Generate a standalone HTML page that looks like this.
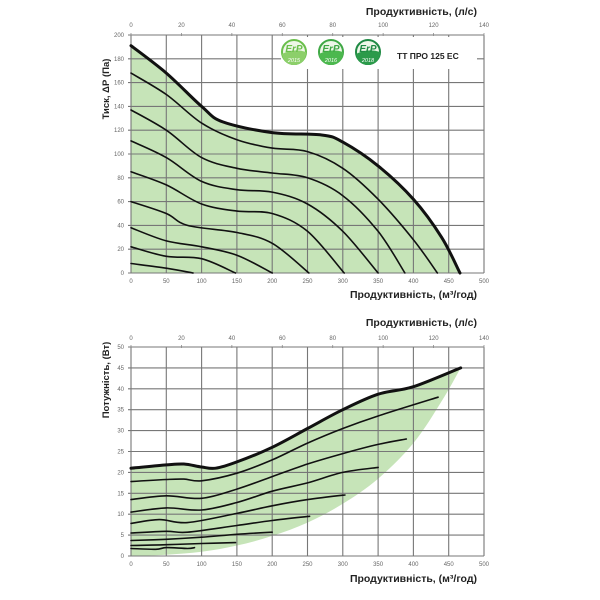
<!DOCTYPE html>
<html><head><meta charset="utf-8"><style>
html,body{margin:0;padding:0;background:#fff;}
svg{display:block;font-family:"Liberation Sans",sans-serif;}
</style></head><body>
<svg id="s" width="600" height="600" viewBox="0 0 600 600" xmlns="http://www.w3.org/2000/svg"></svg>
<script>
(function(){
var S=document.getElementById('s');var h='';
var X0=131,X1=484;
function sx(q){return X0+(X1-X0)*q/500;}
function path(pts){
 var d='M'+pts[0][0].toFixed(1)+','+pts[0][1].toFixed(1);
 for(var i=0;i<pts.length-1;i++){var p0=pts[i-1]||pts[i],p1=pts[i],p2=pts[i+1],p3=pts[i+2]||p2;
  var c1=[p1[0]+(p2[0]-p0[0])/6,p1[1]+(p2[1]-p0[1])/6],c2=[p2[0]-(p3[0]-p1[0])/6,p2[1]-(p3[1]-p1[1])/6];
  d+=' C'+c1[0].toFixed(1)+','+c1[1].toFixed(1)+' '+c2[0].toFixed(1)+','+c2[1].toFixed(1)+' '+p2[0].toFixed(1)+','+p2[1].toFixed(1);}
 return d;}
function chart(Ytop,Ybot,ymax,ystep,topY,fill,curves,ytitle,titleTop,titleBot,cy,logo){
 var sy=function(v){return Ybot-(Ybot-Ytop)*v/ymax;};
 var P=function(a){return a.map(function(p){return [sx(p[0]),sy(p[1])];});};
 h+='<path d="'+fill(P,sy)+'" fill="#c6e4b8"/>';
 for(var q=0;q<=500;q+=50){h+='<line x1="'+sx(q)+'" y1="'+Ytop+'" x2="'+sx(q)+'" y2="'+Ybot+'" stroke="#777" stroke-width="1.1"/>';
  h+='<text x="'+sx(q)+'" y="'+(Ybot+10)+'" font-size="6" fill="#666" text-anchor="middle">'+q+'</text>';}
 for(var v=0;v<=ymax;v+=ystep){h+='<line x1="'+(X0-3)+'" y1="'+sy(v)+'" x2="'+X1+'" y2="'+sy(v)+'" stroke="#777" stroke-width="1.1"/>';
  h+='<text x="'+(X0-7)+'" y="'+(sy(v)+2)+'" font-size="6" fill="#666" text-anchor="end">'+v+'</text>';}
 for(var l=0;l<=140;l+=20){var x=X0+(X1-X0)*l/140;h+='<text x="'+x+'" y="'+topY+'" font-size="6" fill="#666" text-anchor="middle">'+l+'</text><line x1="'+x+'" y1="'+(Ytop-2)+'" x2="'+x+'" y2="'+(Ytop+1)+'" stroke="#888" stroke-width="0.8"/>';}
 if(logo)logo(sy);
 curves.forEach(function(c,i){h+='<path d="'+path(P(c))+'" fill="none" stroke="#111" stroke-width="'+(i==0?3:1.6)+'" stroke-linecap="round"/>';});
 h+='<text x="477" y="'+titleTop+'" font-size="10.5" font-weight="bold" fill="#222" text-anchor="end">Продуктивність, (л/с)</text>';
 h+='<text x="477" y="'+titleBot+'" font-size="10.5" font-weight="bold" fill="#222" text-anchor="end">Продуктивність, (м³/год)</text>';
 h+='<text transform="translate(109,'+cy+') rotate(-90)" font-size="9.5" font-weight="bold" fill="#222" text-anchor="middle">'+ytitle+'</text>';
}
var TOPC=[
[[0,191],[50,168],[100,140],[130,127],[200,118],[270,116],[300,110],[350,90],[400,62],[440,30],[466,0]],
[[0,168],[50,150],[100,126],[150,112],[200,105],[250,102],[300,88],[350,62],[400,28],[434,0]],
[[0,137],[50,120],[100,97],[150,88],[200,84],[250,80],[300,65],[350,35],[388,0]],
[[0,111],[50,97],[100,77],[150,70],[200,68],[250,58],[300,35],[350,0]],
[[0,85],[50,74],[100,58],[150,52],[200,50],[250,35],[302,0]],
[[0,60],[50,50],[80,40],[150,34],[200,25],[252,0]],
[[0,38],[50,27],[100,22],[150,15],[200,0]],
[[0,22],[50,14],[100,12],[148,0]],
[[0,8],[50,4],[88,0]]];
chart(35,273,200,20,27,function(P,sy){return path(P(TOPC[0]))+' L'+sx(0)+','+sy(0)+' Z';},TOPC,"Тиск, ΔР (Па)",15,298,89,function(sy){
 h+='<rect x="281" y="37" width="196" height="32" fill="#fff"/>';
 [[294,'#6abf4b','#8ccf6a','2015'],[331,'#3fa845','#4cb84e','2016'],[368,'#1f8a44','#2b9a4a','2018']].forEach(function(l){
  var c=l[0];
  h+='<circle cx="'+c+'" cy="52" r="12" fill="#eef7e8" stroke="'+l[1]+'" stroke-width="2"/><path d="M'+(c-12)+',54 Q'+c+',48 '+(c+12)+',52 A12,12 0 0 1 '+(c-12)+',54Z" fill="'+l[2]+'"/><text x="'+c+'" y="52" font-size="10" font-style="italic" font-weight="bold" fill="'+l[1]+'" text-anchor="middle">ErP</text><text x="'+c+'" y="62" font-size="5.5" font-style="italic" fill="#fff" text-anchor="middle">'+l[3]+'</text>';});
 h+='<text x="397" y="59" font-size="8.5" font-weight="bold" fill="#222">ТТ ПРО 125 ЕС</text>';
});
var BOTC=[
[[0,21],[50,21.8],[75,22],[100,21.3],[120,21],[150,22.5],[200,26],[250,30.5],[300,35],[350,38.7],[400,40.5],[467,45]],
[[0,17.8],[50,18.3],[75,18.4],[100,18],[150,19.8],[200,23],[250,27],[300,30.5],[350,33.5],[435,38]],
[[0,13.5],[50,14.4],[100,13.8],[150,16],[200,19],[250,22],[300,24.5],[350,26.7],[390,28]],
[[0,10.5],[50,11.5],[100,11],[150,12.8],[200,15.5],[250,17.5],[300,20],[350,21.2]],
[[0,7.8],[40,8.7],[80,8],[150,10.2],[200,12],[250,13.5],[303,14.6]],
[[0,5.5],[50,5.9],[80,5.7],[150,7.3],[200,8.5],[253,9.5]],
[[0,3.7],[50,4],[100,4.5],[150,5.2],[200,5.7]],
[[0,2.5],[50,2.7],[100,3],[148,3.2]],
[[0,1.8],[35,1.6],[50,2],[80,1.8],[90,2.0]]];
chart(347,556,50,5,340,function(P,sy){
 var low=[[467,45],[440,37],[400,27],[350,18.5],[300,12.5],[250,8],[200,4.8],[150,2.5],[100,1],[50,0.3],[0,0]];
 return path(P(BOTC[0]))+' L'+path(P(low)).slice(1)+' L'+sx(0)+','+sy(21)+' Z';
},BOTC,"Потужність, (Вт)",326,582,380,null);
S.innerHTML=h;
})();
</script>
</body></html>
